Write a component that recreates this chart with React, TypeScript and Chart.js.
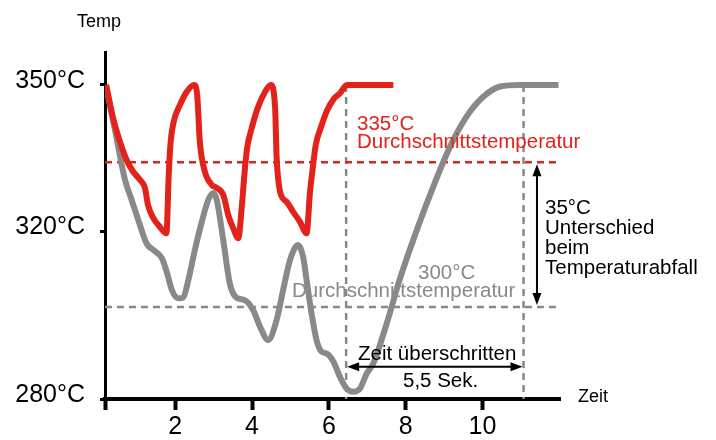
import React, { useEffect, useRef } from 'react';
import { Chart, LinearScale, registerables } from 'chart.js';

Chart.register(...registerables);

// ---------- data ----------
const X_TICKS = [2, 4, 6, 8, 10];
const Y_TICKS = [280, 320, 350];
const X_MIN = 0.17;
const X_MAX = 12.02;

const RED_X = [0.2, 0.38, 0.56, 0.73, 0.9, 1.08, 1.21, 1.29, 1.43, 1.6, 1.77, 1.83, 1.88, 1.96, 2.12, 2.3, 2.49, 2.57, 2.64, 2.77, 2.95, 3.08, 3.25, 3.38, 3.51, 3.64, 3.73, 3.8, 3.87, 3.99, 4.16, 4.34, 4.49, 4.6, 4.64, 4.73, 4.9, 5.07, 5.25, 5.42, 5.51, 5.56, 5.66, 5.79, 5.95, 6.13, 6.29, 6.47, 7.68];
const RED_Y = [350, 343.6, 339.0, 335.5, 333.0, 331.2, 329.4, 325.7, 322.8, 320.9, 319.4, 332.3, 339.0, 342.9, 346.1, 348.7, 350, 348.1, 339.0, 333.0, 330.1, 329.4, 327.9, 323.5, 320.6, 318.1, 325.0, 332.3, 337.7, 341.6, 345.8, 348.7, 350, 345.6, 335.9, 328.6, 326.4, 324.2, 322.0, 319.4, 328.6, 332.3, 338.4, 341.7, 345.0, 347.3, 348.4, 350, 350];

const GRAY_X = [0.19, 0.43, 0.69, 0.86, 1.08, 1.25, 1.47, 1.65, 1.78, 1.91, 2.08, 2.21, 2.34, 2.51, 2.69, 2.86, 2.99, 3.08, 3.25, 3.42, 3.58, 3.81, 4.03, 4.21, 4.42, 4.64, 4.81, 4.99, 5.2, 5.33, 5.42, 5.55, 5.68, 5.81, 5.94, 6.12, 6.29, 6.46, 6.64, 6.81, 6.99, 7.16, 7.51, 7.85, 8.29, 8.72, 9.16, 9.59, 10.02, 10.46, 10.98, 11.98];
const GRAY_Y = [350, 341.3, 331.2, 326.9, 321.3, 316.8, 314.7, 312.9, 309.2, 304.5, 302.3, 302.6, 307.1, 315.0, 322.0, 326.8, 328.3, 326.8, 317.6, 306.2, 302.6, 301.8, 299.3, 295.7, 292.8, 297.2, 304.5, 312.4, 316.3, 313.2, 307.1, 298.6, 292.8, 290.3, 289.9, 288.1, 284.8, 282.3, 281.6, 282.3, 285.6, 287.8, 296.5, 307.4, 320.2, 329.7, 338.1, 343.9, 347.7, 349.7, 350, 350];

const AVG_RED = 335;
const AVG_GRAY = 300;
const PEAK_TEMP = 350;
const FLOOR_TEMP = 280;
const RED_REACH_X = 6.45;
const GRAY_REACH_X = 11.07;
const TIME_ARROW_Y = 287;
const DIFF_ARROW_X = 11.42;

// schematic (non-uniform) temperature axis: value knots and their share of the axis
const Y_KNOT_VALUES = [280, 300, 320, 335, 350, 357];
const Y_KNOT_FRACS = [0, 0.265, 0.484, 0.682, 0.905, 1];

const RED = '#e3221b';
const GRAY = '#898989';
const FONT = '"Liberation Sans", Arial, Helvetica, sans-serif';

function valueToFrac(v: number): number {
  const vs = Y_KNOT_VALUES, fs = Y_KNOT_FRACS;
  let i = 0;
  while (i < vs.length - 2 && v > vs[i + 1]) i++;
  return fs[i] + ((v - vs[i]) / (vs[i + 1] - vs[i])) * (fs[i + 1] - fs[i]);
}
function fracToValue(f: number): number {
  const vs = Y_KNOT_VALUES, fs = Y_KNOT_FRACS;
  let i = 0;
  while (i < fs.length - 2 && f > fs[i + 1]) i++;
  return vs[i] + ((f - fs[i]) / (fs[i + 1] - fs[i])) * (vs[i + 1] - vs[i]);
}

class PiecewiseScale extends LinearScale {
  static id = 'piecewise';
  static defaults = (LinearScale as any).defaults;
  getPixelForValue(value: any) {
    if (value === null || value === undefined || Number.isNaN(+value)) return NaN;
    return (this as any).getPixelForDecimal(valueToFrac(+value));
  }
  getValueForPixel(pixel: number) {
    return fracToValue((this as any).getDecimalForPixel(pixel));
  }
}
Chart.register(PiecewiseScale as any);

function pts(xs: number[], ys: number[]) {
  return xs.map((x, i) => ({ x, y: ys[i] }));
}

function arrowHead(ctx: CanvasRenderingContext2D, x: number, y: number, ang: number) {
  const len = 12, half = 4.5;
  ctx.beginPath();
  ctx.moveTo(x, y);
  ctx.lineTo(x - len * Math.cos(ang) + half * Math.sin(ang), y - len * Math.sin(ang) - half * Math.cos(ang));
  ctx.lineTo(x - len * Math.cos(ang) - half * Math.sin(ang), y - len * Math.sin(ang) + half * Math.cos(ang));
  ctx.closePath();
  ctx.fill();
}
function doubleArrow(ctx: CanvasRenderingContext2D, x1: number, y1: number, x2: number, y2: number) {
  const ang = Math.atan2(y2 - y1, x2 - x1);
  ctx.beginPath();
  ctx.moveTo(x1 + 8 * Math.cos(ang), y1 + 8 * Math.sin(ang));
  ctx.lineTo(x2 - 8 * Math.cos(ang), y2 - 8 * Math.sin(ang));
  ctx.stroke();
  arrowHead(ctx, x2, y2, ang);
  arrowHead(ctx, x1, y1, ang + Math.PI);
}

const annotationPlugin = {
  id: 'annotations',
  afterDatasetsDraw(chart: any) {
    const ctx: CanvasRenderingContext2D = chart.ctx;
    const xs = chart.scales.x;
    const ys = chart.scales.y;
    ctx.save();
    ctx.strokeStyle = '#000';
    ctx.fillStyle = '#000';
    ctx.lineWidth = 2;
    doubleArrow(ctx, xs.getPixelForValue(RED_REACH_X) + 1, ys.getPixelForValue(TIME_ARROW_Y), xs.getPixelForValue(GRAY_REACH_X) - 1, ys.getPixelForValue(TIME_ARROW_Y));
    doubleArrow(ctx, xs.getPixelForValue(DIFF_ARROW_X), ys.getPixelForValue(AVG_RED) + 2, xs.getPixelForValue(DIFF_ARROW_X), ys.getPixelForValue(AVG_GRAY) - 2);

    ctx.textBaseline = 'alphabetic';
    ctx.textAlign = 'left';
    ctx.font = `18px ${FONT}`;
    ctx.fillStyle = '#000';
    ctx.fillText('Temp', 77, 27);
    ctx.fillText('Zeit', 578, 402);

    ctx.font = `20.5px ${FONT}`;
    ctx.fillStyle = RED;
    ctx.fillText('335°C', 357, 130);
    ctx.fillText('Durchschnittstemperatur', 357, 148);

    ctx.fillStyle = GRAY;
    ctx.fillText('300°C', 418, 278.5);
    ctx.fillText('Durchschnittstemperatur', 292, 297);

    ctx.fillStyle = '#000';
    ctx.fillText('35°C', 545, 214);
    ctx.fillText('Unterschied', 545, 234);
    ctx.fillText('beim', 545, 253.5);
    ctx.fillText('Temperaturabfall', 545, 273.5);

    ctx.fillText('Zeit überschritten', 358, 360);
    ctx.fillText('5,5 Sek.', 403, 387);
    ctx.restore();
  },
};

export default function App() {
  const ref = useRef<HTMLCanvasElement | null>(null);
  useEffect(() => {
    if (!ref.current) return;
    const dash = [7, 5];
    const chart = new Chart(ref.current, {
      type: 'line',
      data: {
        datasets: [
          {
            data: pts(RED_X, RED_Y),
            borderColor: RED,
            borderWidth: 6,
            pointRadius: 0,
            cubicInterpolationMode: 'monotone',
            borderJoinStyle: 'round',
            order: 0,
          },
          {
            data: pts(GRAY_X, GRAY_Y),
            borderColor: GRAY,
            borderWidth: 6,
            pointRadius: 0,
            cubicInterpolationMode: 'monotone',
            borderJoinStyle: 'round',
            order: 1,
          },
          {
            data: [{ x: X_MIN, y: AVG_RED }, { x: X_MAX, y: AVG_RED }],
            borderColor: RED,
            borderWidth: 2.5,
            borderDash: dash,
            pointRadius: 0,
            order: 2,
          },
          {
            data: [{ x: X_MIN, y: AVG_GRAY }, { x: X_MAX, y: AVG_GRAY }],
            borderColor: GRAY,
            borderWidth: 2.5,
            borderDash: dash,
            pointRadius: 0,
            order: 3,
          },
          {
            data: [{ x: RED_REACH_X, y: PEAK_TEMP }, { x: RED_REACH_X, y: FLOOR_TEMP }],
            borderColor: GRAY,
            borderWidth: 2.5,
            borderDash: dash,
            pointRadius: 0,
            order: 4,
          },
          {
            data: [{ x: GRAY_REACH_X, y: PEAK_TEMP }, { x: GRAY_REACH_X, y: FLOOR_TEMP }],
            borderColor: GRAY,
            borderWidth: 2.5,
            borderDash: dash,
            pointRadius: 0,
            order: 5,
          },
        ],
      },
      options: {
        responsive: false,
        maintainAspectRatio: false,
        animation: false,
        layout: { padding: { left: 0, top: 52, right: 156, bottom: 0 } },
        plugins: { legend: { display: false }, tooltip: { enabled: false } },
        scales: {
          x: {
            type: 'linear',
            min: X_MIN,
            max: X_MAX,
            afterBuildTicks: (scale: any) => {
              scale.ticks = [X_MIN, ...X_TICKS].map((v) => ({ value: v }));
            },
            afterFit: (scale: any) => {
              scale.height = 41;
            },
            grid: { display: true, drawOnChartArea: false, drawTicks: true, tickLength: 11, tickWidth: 4, tickColor: '#000' },
            border: { display: true, color: '#000', width: 4 },
            ticks: {
              autoSkip: false,
              maxRotation: 0,
              padding: 2,
              color: '#000',
              font: { family: FONT, size: 25 },
              callback: (v: any, i: number) => (i === 0 ? '' : String(v)),
            },
          },
          y: {
            type: 'piecewise' as any,
            min: 280,
            max: 357,
            afterBuildTicks: (scale: any) => {
              scale.ticks = Y_TICKS.map((v) => ({ value: v }));
            },
            afterFit: (scale: any) => {
              scale.width = 105;
            },
            grid: { display: true, drawOnChartArea: false, drawTicks: true, tickLength: 5, tickWidth: 3, tickColor: '#000' },
            border: { display: true, color: '#000', width: 3 },
            ticks: {
              autoSkip: false,
              padding: 15,
              labelOffset: -4,
              color: '#000',
              font: { family: FONT, size: 25 },
              callback: (v: any) => `${v}°C`,
            },
          },
        },
      } as any,
      plugins: [annotationPlugin],
    });
    return () => chart.destroy();
  }, []);
  return (
    <div style={{ position: 'absolute', left: 0, top: 0, width: 716, height: 440, background: '#fff' }}>
      <canvas ref={ref} width={716} height={440} style={{ display: 'block' }} />
    </div>
  );
}
